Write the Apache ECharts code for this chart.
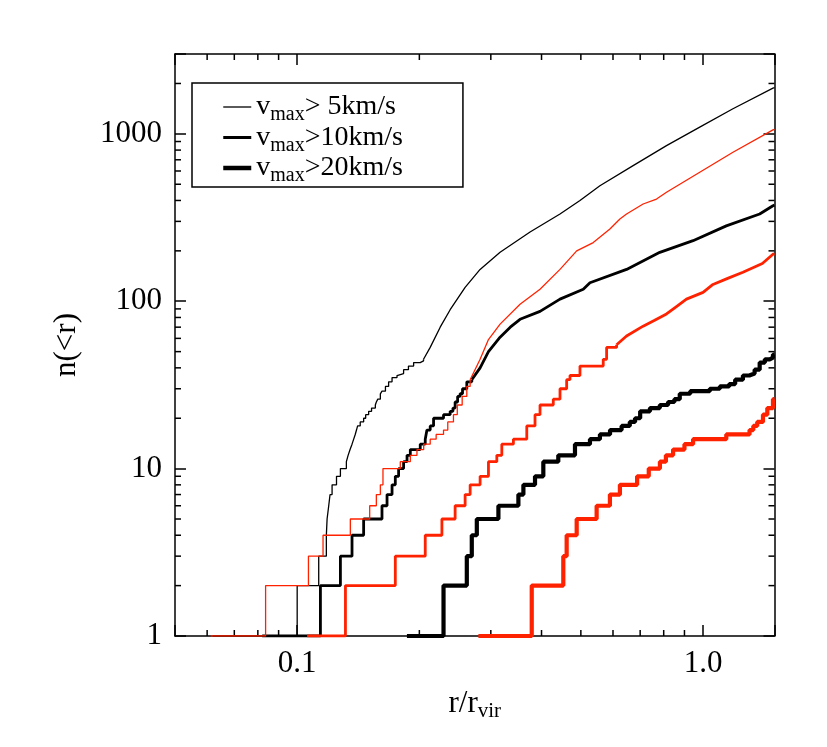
<!DOCTYPE html>
<html>
<head>
<meta charset="utf-8">
<script src="https://cdn.jsdelivr.net/npm/echarts@6/dist/echarts.min.js"></script>
<style>
  html, body { margin: 0; padding: 0; background: #fff; }
  #chart { width: 827px; height: 747px; }
</style>
</head>
<body>
<div id="chart"></div>
<script>
// [r/r_vir, n(<r)] : n steps up to the given value at that radius
const black5 = [
  [0.062, 1], [0.1, 2], [0.113, 3], [0.118, 4], [0.1185, 5], [0.1196, 6], [0.1205, 7],
  [0.1219, 8], [0.125, 9], [0.1278, 10], [0.1322, 11], [0.1335, 12], [0.135, 13],
  [0.1365, 14], [0.1378, 15], [0.139, 16], [0.140, 17], [0.1409, 18], [0.143, 19],
  [0.1458, 20], [0.1475, 21], [0.150, 22], [0.1525, 23], [0.1558, 24], [0.1567, 25],
  [0.158, 26], [0.1603, 28], [0.1618, 29], [0.165, 31], [0.168, 33], [0.1713, 35],
  [0.1762, 36], [0.1778, 37], [0.1829, 39], [0.188, 41], [0.1936, 43], [0.2010, 44],
  [0.2048, 45],
  [0.2127, 53], [0.2251, 70], [0.2382, 89], [0.2593, 121], [0.2823, 155], [0.3162, 196],
  [0.3748, 259], [0.4442, 332], [0.4975, 400], [0.5571, 490], [0.6726, 646],
  [0.8128, 851], [0.9815, 1097], [1.185, 1412], [1.487, 1878], [1.5, 1890]
];
const red5 = [
  [0.0612, 1], [0.0836, 2], [0.1066, 3], [0.1158, 4], [0.1352, 5], [0.1509, 6], [0.1567, 7],
  [0.1603, 8], [0.1627, 10], [0.1795, 11], [0.19, 12], [0.1973, 13], [0.205, 14],
  [0.2127, 15], [0.22, 16], [0.2294, 17], [0.235, 19], [0.2427, 21], [0.248, 24],
  [0.255, 27], [0.2618, 31], [0.2668, 34],
  [0.2823, 45], [0.296, 59], [0.3162, 73], [0.3541, 96], [0.3966, 118], [0.4442, 155],
  [0.4883, 200], [0.5364, 224], [0.5896, 270], [0.624, 310], [0.648, 332], [0.7118, 381],
  [0.7681, 408], [0.8128, 448], [0.9815, 590], [1.185, 777], [1.487, 1057], [1.5, 1065]
];
const black10 = [
  [0.082, 1], [0.1141, 2], [0.1278, 3], [0.1365, 4], [0.1458, 5], [0.1618, 6], [0.1665, 7],
  [0.1713, 8], [0.1745, 9], [0.1778, 10], [0.1829, 11], [0.1865, 12], [0.19, 13],
  [0.201, 14], [0.2068, 15], [0.2088, 17], [0.2127, 18], [0.2168, 20], [0.2294, 21],
  [0.2382, 22], [0.242, 23], [0.245, 25], [0.2485, 27], [0.252, 28], [0.2555, 30],
  [0.2618, 33], [0.2693, 34],
  [0.2823, 40], [0.296, 50], [0.3162, 61], [0.335, 70], [0.3541, 78], [0.3966, 87],
  [0.4442, 103], [0.5069, 118], [0.5265, 129], [0.648, 155], [0.7826, 196], [0.945, 230],
  [1.141, 282], [1.379, 332], [1.487, 372], [1.5, 375]
];
const red10 = [
  [0.1058, 1], [0.1315, 2], [0.1745, 3], [0.2068, 4], [0.2273, 5], [0.245, 6], [0.2593, 7],
  [0.2668, 8], [0.2823, 9], [0.296, 11], [0.3104, 12], [0.3193, 14], [0.341, 15],
  [0.3679, 18], [0.3855, 21], [0.3966, 24], [0.4276, 26], [0.4442, 30], [0.4613, 34],
  [0.4701, 36], [0.4975, 41], [0.5677, 45], [0.5787, 53], [0.6124, 55],
  [0.648, 62], [0.7118, 71], [0.76, 77], [0.8128, 84], [0.86, 93], [0.9102, 103],
  [1.0, 113], [1.058, 126], [1.15, 137], [1.254, 149], [1.40, 168], [1.487, 191], [1.5, 192]
];
const black20 = [
  [0.1864, 1], [0.2294, 2], [0.2618, 3], [0.2693, 4], [0.2771, 5], [0.3132, 6], [0.3508, 7],
  [0.3609, 8], [0.3855, 9], [0.4041, 11], [0.4399, 12], [0.4836, 14], [0.5265, 15],
  [0.5571, 16], [0.59, 17], [0.63, 18], [0.66, 19], [0.68, 20], [0.70, 22], [0.74, 23],
  [0.7826, 24], [0.82, 25], [0.85, 26], [0.8763, 28], [0.93, 29], [1.039, 30], [1.1, 31],
  [1.16, 32], [1.2, 34], [1.254, 36], [1.3, 37], [1.34, 39], [1.379, 43], [1.42, 45],
  [1.46, 46], [1.487, 48], [1.5, 48]
];
const red20 = [
  [0.2796, 1], [0.3784, 2], [0.4526, 3], [0.4613, 4], [0.4883, 5], [0.5468, 6], [0.5896, 7],
  [0.624, 8], [0.688, 9], [0.735, 10], [0.783, 11], [0.81, 12], [0.8437, 13], [0.90, 14],
  [0.945, 15], [1.141, 16], [1.302, 17], [1.33, 18], [1.36, 19], [1.405, 21], [1.44, 23],
  [1.487, 26], [1.5, 26]
];

const xMajorLabels = { '0.1': '0.1', '1': '1.0' };
const yMajorLabels = { '1': '1', '10': '10', '100': '100', '1000': '1000' };
const xMinorTicks = [0.06, 0.07, 0.08, 0.09, 0.2, 0.3, 0.4, 0.5, 0.6, 0.7, 0.8, 0.9];
const yMinorTicks = [2, 3, 4, 5, 6, 7, 8, 9, 20, 30, 40, 50, 60, 70, 80, 90,
  200, 300, 400, 500, 600, 700, 800, 900, 2000];
const legendText = { v5: '> 5km/s', v10: '>10km/s', v20: '>20km/s' };

const X_MIN = 0.05, X_MAX = 1.5, Y_MIN = 1, Y_MAX = 3000;
const RED = '#ff2200';
const SERIF = 'Liberation Serif';

// low-n part drawn as a staircase, the crowded high-n part as a plain line
function curve(name, pts, color, width, stepLimit) {
  const steps = pts.filter(p => p[1] <= stepLimit);
  const base = { name, type: 'line', symbol: 'none', silent: true,
    lineStyle: { color, width }, itemStyle: { color } };
  const out = [Object.assign({}, base, { step: 'end', data: steps })];
  if (steps.length < pts.length) {
    out.push(Object.assign({}, base, { data: pts.slice(steps.length - 1) }));
  }
  return out;
}

function labelFor(map) {
  return v => {
    for (const k in map) if (Math.abs(v / Number(k) - 1) < 1e-6) return map[k];
    return '';
  };
}

function minorTicks(params, api) {
  const horiz = params.seriesName === 'xminor';
  const v = api.value(horiz ? 0 : 1);
  const L = 6;
  const st = { stroke: '#000', lineWidth: 1.5 };
  let a, b;
  if (horiz) {
    a = api.coord([v, Y_MIN]); b = api.coord([v, Y_MAX]);
    return { type: 'group', children: [
      { type: 'line', shape: { x1: a[0], y1: a[1], x2: a[0], y2: a[1] - L }, style: st },
      { type: 'line', shape: { x1: b[0], y1: b[1], x2: b[0], y2: b[1] + L }, style: st }
    ] };
  }
  a = api.coord([X_MIN, v]); b = api.coord([X_MAX, v]);
  return { type: 'group', children: [
    { type: 'line', shape: { x1: a[0], y1: a[1], x2: a[0] + L, y2: a[1] }, style: st },
    { type: 'line', shape: { x1: b[0], y1: b[1], x2: b[0] - L, y2: b[1] }, style: st }
  ] };
}

const axisCommon = {
  type: 'log', logBase: 10,
  axisLine: { show: true, onZero: false, lineStyle: { color: '#000', width: 1.5 } },
  axisTick: { show: true, inside: true, length: 11, lineStyle: { color: '#000', width: 1.5 } },
  splitLine: { show: false },
  minorTick: { show: false }
};

const chart = echarts.init(document.getElementById('chart'));

chart.setOption({
  animation: false,
  backgroundColor: '#fff',
  grid: { left: 175, top: 54, width: 599.5, height: 582, containLabel: false },
  xAxis: [
    Object.assign({}, axisCommon, {
      min: X_MIN, max: X_MAX, position: 'bottom',
      axisLabel: { formatter: labelFor(xMajorLabels), color: '#000', fontFamily: SERIF,
        fontSize: 31, margin: 12, showMinLabel: true, showMaxLabel: true },
      name: '{a|r/r}{b|vir}', nameLocation: 'middle', nameGap: 50,
      nameTextStyle: { rich: {
        a: { fontFamily: SERIF, fontSize: 31, color: '#000' },
        b: { fontFamily: SERIF, fontSize: 21, color: '#000', padding: [15, 0, 0, 0] }
      } }
    }),
    Object.assign({}, axisCommon, {
      min: X_MIN, max: X_MAX, position: 'top', axisLabel: { show: false }
    })
  ],
  yAxis: [
    Object.assign({}, axisCommon, {
      min: Y_MIN, max: Y_MAX, position: 'left',
      axisLabel: { formatter: labelFor(yMajorLabels), color: '#000', fontFamily: SERIF,
        fontSize: 31, margin: 13 },
      name: 'n(<r)', nameLocation: 'middle', nameGap: 93,
      nameTextStyle: { fontFamily: SERIF, fontSize: 31, color: '#000' }
    }),
    Object.assign({}, axisCommon, {
      min: Y_MIN, max: Y_MAX, position: 'right', axisLabel: { show: false }
    })
  ],
  legend: {
    data: [
      { name: 'v5', lineStyle: { width: 1.3 } },
      { name: 'v10', lineStyle: { width: 3 } },
      { name: 'v20', lineStyle: { width: 4.5 } }
    ],
    orient: 'vertical', left: 192, top: 83,
    itemWidth: 28, itemHeight: 14, itemGap: -1.5,
    padding: [10, 60, 1, 29],
    borderColor: '#000', borderWidth: 1.5, borderRadius: 0,
    backgroundColor: '#fff',
    selectedMode: false,
    itemStyle: { opacity: 0 },
    formatter: n => '{v|v}{s|max}{t|' + legendText[n] + '}',
    textStyle: { rich: {
      v: { fontFamily: SERIF, fontSize: 28, color: '#000' },
      s: { fontFamily: SERIF, fontSize: 20, color: '#000', padding: [16, 0, 0, 0] },
      t: { fontFamily: SERIF, fontSize: 28, color: '#000' }
    } }
  },
  series: [].concat(
    curve('v5', black5, '#000', 1.3, 45),
    curve('v10', black10, '#000', 2.8, 34),
    curve('v20', black20, '#000', 4.2, Infinity),
    curve('red5', red5, RED, 1.3, 34),
    curve('red10', red10, RED, 2.8, 55),
    curve('red20', red20, RED, 4.2, Infinity),
    [
      { name: 'xminor', type: 'custom', silent: true, renderItem: minorTicks,
        data: xMinorTicks.map(v => [v, Y_MIN]) },
      { name: 'yminor', type: 'custom', silent: true, renderItem: minorTicks,
        data: yMinorTicks.map(v => [X_MIN, v]) }
    ]
  )
});
</script>
</body>
</html>
